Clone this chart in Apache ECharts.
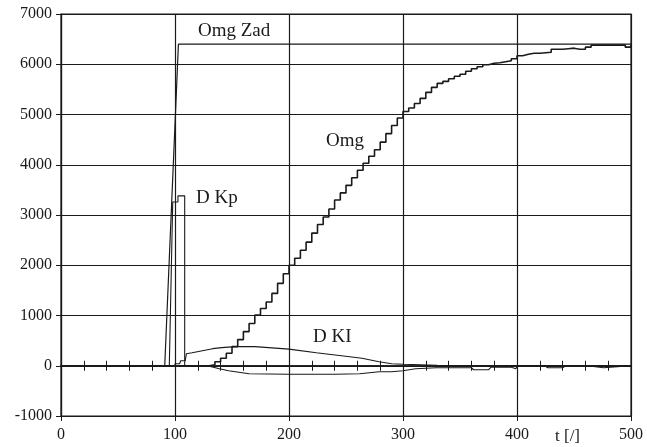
<!DOCTYPE html>
<html>
<head>
<meta charset="utf-8">
<script src="https://cdn.jsdelivr.net/npm/echarts@6/dist/echarts.min.js"></script>
<style>
  html, body { margin: 0; padding: 0; background: #fff; }
  #chart { width: 647px; height: 447px; }
</style>
</head>
<body>
<div id="chart"></div>
<script>
// axis ticks
const xTicks = [0, 100, 200, 300, 400, 500];
const yTicks = [-1000, 0, 1000, 2000, 3000, 4000, 5000, 6000, 7000];

// Omg Zad (setpoint)
const zadT = [0, 91, 103, 500];
const zadV = [0, 0, 6400, 6400];

// Omg (staircase response)
const omgT = [0, 125, 130, 135, 140, 145, 150, 155, 160, 165, 170, 175, 180, 185, 190, 195,
  200, 205, 210, 215, 220, 225, 230, 235, 240, 245, 250, 255, 260, 265, 270, 275, 280, 285,
  290, 295, 300, 305, 310, 315, 320, 325, 330, 335, 340, 345, 350, 355, 360, 365, 370, 375,
  380, 385, 390, 395, 400, 405, 410, 415, 420, 425, 430, 435, 440, 445, 450, 455, 460, 465,
  470, 475, 480, 485, 490, 495, 500];
const omgV = [0, 0, 20, 80, 150, 250, 380, 520, 680, 840, 1010, 1140, 1270, 1440, 1640, 1830,
  2000, 2140, 2300, 2460, 2640, 2810, 2960, 3120, 3300, 3440, 3590, 3740, 3890, 4030, 4170, 4300, 4450, 4620,
  4780, 4930, 5060, 5130, 5220, 5320, 5440, 5540, 5620, 5660, 5710, 5760, 5800, 5860, 5910, 5950, 5990, 6020,
  6030, 6050, 6070, 6110, 6170, 6200, 6220, 6220, 6230, 6240, 6300, 6300, 6310, 6320, 6300, 6300, 6340, 6380,
  6380, 6380, 6380, 6380, 6380, 6340, 6400];

// D Kp
const kpT = [0, 95, 98, 102.6, 102.6, 108.5, 108.5, 125, 130, 139, 147, 165, 200, 240, 262, 279, 290, 300,
  311, 329, 360, 362, 375, 377, 395, 396, 399, 400, 425, 427, 440, 442, 465, 466, 476, 477, 500];
const kpV = [0, 0, 3260, 3260, 3380, 3380, 0, 0, -10, -60, -100, -160, -170, -170, -160, -120, -120, -100,
  -60, -40, -40, -80, -80, -30, -30, -60, -60, -10, -10, -40, -40, -10, -10, -40, -40, -10, 0];

// D KI
const kiT = [0, 100, 100, 104, 105, 109, 110, 115, 124, 133, 141, 153, 170, 200, 224, 246, 264, 279, 290, 300, 330, 500];
const kiV = [0, 0, 40, 40, 100, 100, 240, 260, 300, 340, 360, 380, 380, 330, 260, 200, 150, 80, 40, 30, 10, 0];

function pairs(t, v) { return t.map((x, i) => [x, v[i]]); }

const ink = '#1a1a1a';
const font = 'Liberation Serif';

const chart = echarts.init(document.getElementById('chart'));
chart.setOption({
  animation: false,
  grid: { left: 61, right: 16, top: 14, bottom: 31, show: true, borderColor: ink, borderWidth: 1.2 },
  xAxis: [
    {
      type: 'value', min: xTicks[0], max: xTicks[xTicks.length - 1], interval: 100,
      axisLine: { onZero: false, lineStyle: { color: ink, width: 1.2 } },
      axisTick: { show: true, length: 5, lineStyle: { color: ink } },
      axisLabel: { color: ink, fontFamily: font, fontSize: 16, margin: 11, formatter: v => String(v) },
      splitLine: { show: true, lineStyle: { color: ink, width: 1.2 } }
    },
    {
      type: 'value', min: 0, max: 500, interval: 20,
      axisLine: { onZero: true, onZeroAxisIndex: 0, lineStyle: { color: ink, width: 1.5 } },
      axisTick: { show: true, inside: true, length: 5, lineStyle: { color: ink } },
      axisLabel: { show: false }, splitLine: { show: false }
    },
    {
      type: 'value', min: 0, max: 500, interval: 20,
      axisLine: { onZero: true, onZeroAxisIndex: 0, lineStyle: { color: ink, width: 1.5 } },
      axisTick: { show: true, inside: false, length: 5, lineStyle: { color: ink } },
      axisLabel: { show: false }, splitLine: { show: false }
    }
  ],
  yAxis: {
    type: 'value', min: yTicks[0], max: yTicks[yTicks.length - 1], interval: 1000,
    axisLine: { show: true, lineStyle: { color: ink, width: 1.2 } },
    axisTick: { show: true, length: 5, lineStyle: { color: ink } },
    axisLabel: { color: ink, fontFamily: font, fontSize: 16, margin: 9, formatter: v => String(v) },
    splitLine: { show: true, lineStyle: { color: ink, width: 1.2 } }
  },
  series: [
    { name: 'Omg Zad', type: 'line', data: pairs(zadT, zadV), symbol: 'none',
      lineStyle: { color: ink, width: 1.2 } },
    { name: 'D KI', type: 'line', data: pairs(kiT, kiV), symbol: 'none',
      lineStyle: { color: ink, width: 1.1 } },
    { name: 'D Kp', type: 'line', data: pairs(kpT, kpV), symbol: 'none',
      lineStyle: { color: ink, width: 1.1 } },
    { name: 'Omg', type: 'line', step: 'end', data: pairs(omgT, omgV), symbol: 'none',
      lineStyle: { color: ink, width: 1.6 } }
  ],
  graphic: [
    { type: 'text', left: 198, top: 22, style: { text: 'Omg Zad', font: '19px "Liberation Serif"', fill: ink } },
    { type: 'text', left: 326, top: 132, style: { text: 'Omg', font: '19px "Liberation Serif"', fill: ink } },
    { type: 'text', left: 196, top: 189, style: { text: 'D Kp', font: '19px "Liberation Serif"', fill: ink } },
    { type: 'text', left: 313, top: 328, style: { text: 'D KI', font: '19px "Liberation Serif"', fill: ink } },
    { type: 'text', left: 555, top: 428, style: { text: 't [/]', font: '17px "Liberation Serif"', fill: ink } }
  ]
});
</script>
</body>
</html>
